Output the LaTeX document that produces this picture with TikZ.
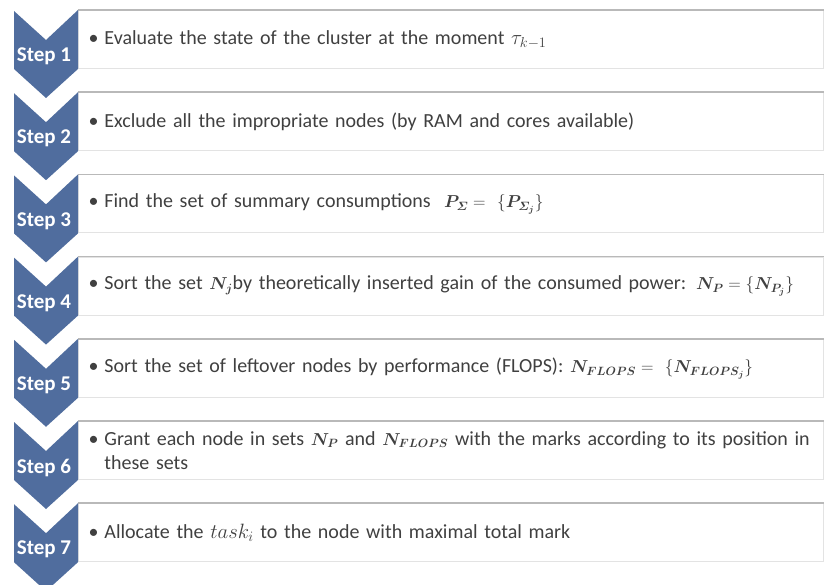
\documentclass[tikz,border=0pt]{standalone}
\usepackage{fontspec}
\usepackage{amsmath}
\usepackage{amssymb}
\usepackage{tikz}
\setmainfont{Carlito}
\usetikzlibrary{calc, positioning}

\definecolor{chevblue}{RGB}{80,109,158}
\definecolor{textgray}{RGB}{64,64,64}

% bullet with the text hanging after it
\newcommand{\stepitem}[1]{\textbullet\hspace{6pt}\parbox[t]{714pt}{\raggedright #1}}
% formulas a little smaller than the text
\newcommand{\fml}[1]{{\fontsize{18}{24}\selectfont$#1$}}

\begin{document}
\begin{tikzpicture}[
  x=1pt, y=1pt,
  node distance=23.2pt,
  box/.style={
    rectangle, draw=gray!22, fill=white, line width=1pt,
    minimum width=745pt, minimum height=58pt,
    text width=725pt, inner xsep=10pt, align=left,
    font=\fontsize{20}{24}\selectfont, text=textgray,
    anchor=north west
  },
  topline/.style={draw=gray!55, line width=1.6pt},
  chevron/.style={fill=chevblue},
  steplabel/.style={text=white, font=\fontsize{21}{22}\selectfont\bfseries}
]
\useasboundingbox (0,0) rectangle (826,584);

% Boxes
\node[box] (s1) at (78,574) {\stepitem{Evaluate the state of the cluster at the moment $\tau_{k-1}$}};
\node[box, below=of s1] (s2) {\stepitem{Exclude all the impropriate nodes (by RAM and cores available)}};
\node[box, below=of s2] (s3) {\stepitem{Find the set of summary consumptions \ \fml{\boldsymbol{P_{\mathnormal{\Sigma}}} =\ \{\boldsymbol{P_{\mathnormal{\Sigma}_j}}\}}}};
\node[box, below=of s3] (s4) {\stepitem{Sort the set \fml{\boldsymbol{N_j}}by theoretically inserted gain of the consumed power: \fml{\boldsymbol{N_P} = \{\boldsymbol{N_{P_j}}\}}}};
\node[box, below=of s4] (s5) {\stepitem{Sort the set of leftover nodes by performance (FLOPS): \fml{\boldsymbol{N_{FLOPS}} =\ \{\boldsymbol{N_{FLOPS_j}}\}}}};
\node[box, below=of s5] (s6) {\stepitem{Grant each node in sets \fml{\boldsymbol{N_P}} and \fml{\boldsymbol{N_{FLOPS}}} with the marks according to its position in these sets}};
\node[box, below=of s6] (s7) {\stepitem{Allocate the $task_i$ to the node with maximal total mark}};

% Chevrons
\foreach \i in {1,...,7}{
  \draw[topline] (s\i.north west) -- (s\i.north east);
  \fill[chevron] (s\i.north west) -- (s\i.south west) -- ++(-32,-29) -- ++(-32,29)
    -- ++(0,58) -- ++(32,-29) -- cycle;
  \node[steplabel, xshift=-34pt, yshift=-17pt] (l\i) at (s\i.west) {Step \i};
}

\end{tikzpicture}
\end{document}
